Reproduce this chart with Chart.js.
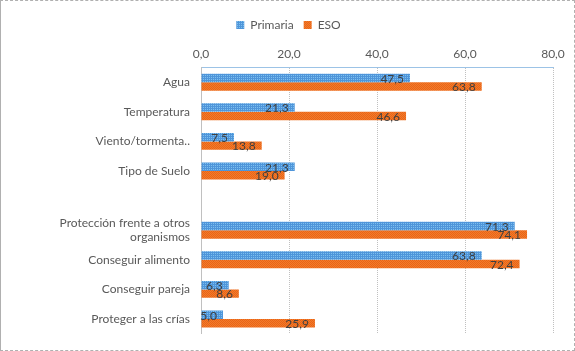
<!DOCTYPE html>
<html>
<head>
<meta charset="utf-8">
<script src="https://cdn.jsdelivr.net/npm/chart.js@4"></script>
<style>
  body { margin: 0; background: #fff; }
  #wrap { position: absolute; left: 0; top: 0; width: 575px; height: 351px; box-sizing: border-box;
          border: 1px dashed #b0b0b0; border-left-style: solid; }
  #wrap canvas { position: absolute; left: 0; top: 0; }
</style>
</head>
<body>
<div id="wrap"><canvas id="chart" width="575" height="351"></canvas></div>
<script>
// categorias (la vacia separa los dos grupos)
const categorias = ['Agua', 'Temperatura', 'Viento/tormenta..', 'Tipo de Suelo', '',
  ['Protección frente a otros', 'organismos'], 'Conseguir alimento', 'Conseguir pareja', 'Proteger a las crías'];
const primaria = [47.5, 21.3, 7.5, 21.3, null, 71.3, 63.8, 6.3, 5.0];
const eso = [63.8, 46.6, 13.8, 19.0, null, 74.1, 72.4, 8.6, 25.9];
const ticksX = [0, 20, 40, 60, 80];

const fmt = v => v.toFixed(1).replace('.', ',');

// tramas tipo Excel
function trama(base, punto, checker) {
  const c = document.createElement('canvas');
  c.width = 2; c.height = 2;
  const g = c.getContext('2d');
  g.fillStyle = base; g.fillRect(0, 0, 2, 2);
  g.fillStyle = punto;
  g.fillRect(0, 0, 1, 1);
  if (checker) g.fillRect(1, 1, 1, 1);
  return g.createPattern(c, 'repeat');
}
const ctx = document.getElementById('chart').getContext('2d');
const azul = trama('#4f95da', '#7cc0ee', false);
const naranja = trama('#f37b2a', '#e86418', true);

// etiquetas de datos dentro del final de cada barra
const etiquetas = {
  id: 'etiquetas',
  afterDatasetsDraw(chart) {
    const c = chart.ctx;
    c.save();
    c.font = '12px Lato';
    c.fillStyle = '#404040';
    c.textAlign = 'right';
    c.textBaseline = 'middle';
    chart.data.datasets.forEach((ds, i) => {
      chart.getDatasetMeta(i).data.forEach((bar, j) => {
        const v = ds.data[j];
        if (v == null) return;
        c.fillText(fmt(v), bar.x - 6, bar.y + 1);
      });
    });
    c.restore();
  }
};

new Chart(ctx, {
  type: 'bar',
  data: {
    labels: categorias,
    datasets: [
      { label: 'Primaria', data: primaria, backgroundColor: azul, barPercentage: 1, categoryPercentage: 0.57 },
      { label: 'ESO', data: eso, backgroundColor: naranja, barPercentage: 1, categoryPercentage: 0.57 }
    ]
  },
  options: {
    indexAxis: 'y',
    responsive: false,
    animation: false,
    layout: { padding: { left: 23, right: 23, top: 8, bottom: 12 } },
    scales: {
      x: {
        position: 'top',
        min: 0, max: 80,
        afterBuildTicks: s => { s.ticks = ticksX.map(v => ({ value: v })); },
        ticks: { callback: v => fmt(v), color: '#595959', font: { family: 'Lato', size: 12 }, padding: 6 },
        grid: { color: '#c0c0c0', drawTicks: false },
        border: { display: true, color: '#9cc3e6', dash: [1, 1] }
      },
      y: {
        afterFit: s => { s.width = 177; },
        ticks: { autoSkip: false, color: '#595959', font: { family: 'Lato', size: 12 }, padding: 11 },
        grid: { display: false, drawTicks: false },
        border: { display: true, color: '#c0c0c0', dash: [1, 1] }
      }
    },
    plugins: {
      legend: {
        position: 'top',
        labels: { boxWidth: 8, boxHeight: 8, color: '#595959', font: { family: 'Lato', size: 12 }, padding: 10 }
      },
      tooltip: { enabled: false }
    }
  },
  plugins: [etiquetas]
});
</script>
</body>
</html>
